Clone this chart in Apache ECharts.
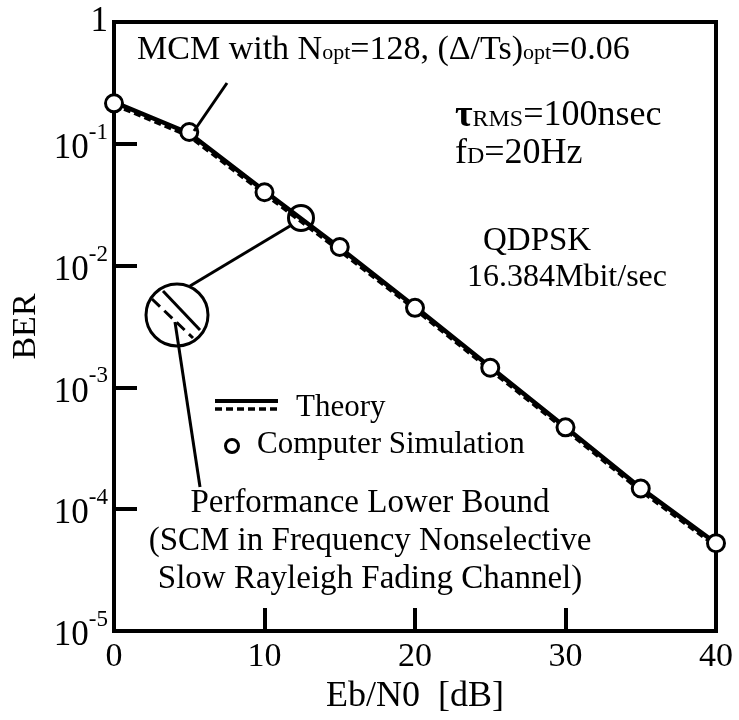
<!DOCTYPE html>
<html>
<head>
<meta charset="utf-8">
<script src="https://cdn.jsdelivr.net/npm/echarts@6/dist/echarts.min.js"></script>
<style>
  html, body { margin: 0; padding: 0; background: #fff; }
  #chart { width: 739px; height: 720px; }
</style>
</head>
<body>
<div id="chart"></div>
<script>
// Eb/N0 points [dB]
var ebn0 = [0, 5, 10, 15, 20, 25, 30, 35, 40];
// computer simulation (circles)
var simBer = [0.215, 0.125, 0.040, 0.0142, 0.0045, 0.00145, 0.00047, 0.000148, 0.0000526];
// MCM theory (solid)
var mcmBer = [0.22, 0.122, 0.041, 0.0140, 0.0046, 0.00147, 0.00047, 0.000149, 0.0000525];
// performance lower bound, SCM (dashed)
var lowerBer = [0.21, 0.116, 0.039, 0.0133, 0.0044, 0.00140, 0.00045, 0.000142, 0.000050];

var serif = '"Liberation Serif", "DejaVu Serif", serif';

function pairs(xs, ys) {
    return xs.map(function (x, i) { return [x, ys[i]]; });
}

var myChart = echarts.init(document.getElementById('chart'));

option = {
    animation: false,
    backgroundColor: '#fff',
    grid: {
        left: 114, right: 23, top: 22, bottom: 83,
        show: true, borderColor: '#000', borderWidth: 4
    },
    xAxis: {
        type: 'value',
        min: 0, max: 40, interval: 10,
        name: 'Eb/N0  [dB]',
        nameLocation: 'middle',
        nameGap: 48,
        nameTextStyle: { color: '#000', fontFamily: serif, fontSize: 36 },
        axisLine: { lineStyle: { color: '#000', width: 4 } },
        axisTick: { inside: true, length: 23, lineStyle: { color: '#000', width: 4 } },
        axisLabel: { color: '#000', fontFamily: serif, fontSize: 34, margin: 9 },
        splitLine: { show: false }
    },
    yAxis: {
        type: 'log',
        logBase: 10,
        min: 1e-5, max: 1,
        name: 'BER',
        nameLocation: 'middle',
        nameGap: 66,
        nameTextStyle: { color: '#000', fontFamily: serif, fontSize: 34 },
        axisLine: { lineStyle: { color: '#000', width: 4 } },
        axisTick: { inside: true, length: 23, lineStyle: { color: '#000', width: 4 } },
        axisLabel: {
            margin: 6,
            formatter: function (v) {
                var k = Math.round(Math.log(v) / Math.LN10);
                if (k === 0) return '{o|1}';
                return '{b|10}{s|' + k + '}';
            },
            rich: {
                o: { color: '#000', fontFamily: serif, fontSize: 35 },
                b: { color: '#000', fontFamily: serif, fontSize: 35, padding: [10, 0, 0, 0] },
                s: { color: '#000', fontFamily: serif, fontSize: 23, verticalAlign: 'top' }
            }
        },
        splitLine: { show: false }
    },
    series: [
        {
            name: 'Lower Bound',
            type: 'line',
            data: pairs(ebn0, lowerBer),
            symbol: 'none',
            lineStyle: { color: '#000', width: 4, type: [7, 4] },
            z: 2
        },
        {
            name: 'MCM Theory',
            type: 'line',
            data: pairs(ebn0, mcmBer),
            symbol: 'none',
            lineStyle: { color: '#000', width: 4.5 },
            z: 3
        },
        {
            name: 'Computer Simulation',
            type: 'scatter',
            data: pairs(ebn0, simBer),
            symbol: 'circle',
            symbolSize: 17,
            itemStyle: { color: '#fff', borderColor: '#000', borderWidth: 3, opacity: 1 },
            z: 4
        }
    ],
    graphic: [
        // annotation texts
        {
            type: 'text', x: 137, y: 50, z: 10,
            style: {
                text: '{a|MCM with N}{s|opt}{a|=128, (\u0394/Ts)}{s|opt}{a|=0.06}',
                verticalAlign: 'middle',
                rich: {
                    a: { fontFamily: serif, fontSize: 34, fill: '#000' },
                    s: { fontFamily: serif, fontSize: 22, fill: '#000', verticalAlign: 'bottom', padding: [0, 0, 3, 0] }
                }
            }
        },
        {
            type: 'text', x: 455, y: 116, z: 10,
            style: {
                text: '{t|\u03c4}{s|RMS}{a|=100nsec}',
                verticalAlign: 'middle',
                rich: {
                    a: { fontFamily: serif, fontSize: 36, fill: '#000' },
                    t: { fontFamily: serif, fontSize: 38, fill: '#000', fontWeight: 'bold' },
                    s: { fontFamily: serif, fontSize: 24, fill: '#000', verticalAlign: 'bottom', padding: [0, 0, 3, 0] }
                }
            }
        },
        {
            type: 'text', x: 455, y: 154, z: 10,
            style: {
                text: '{a|f}{s|D}{a|=20Hz}',
                verticalAlign: 'middle',
                rich: {
                    a: { fontFamily: serif, fontSize: 36, fill: '#000' },
                    s: { fontFamily: serif, fontSize: 24, fill: '#000', verticalAlign: 'bottom', padding: [0, 0, 3, 0] }
                }
            }
        },
        {
            type: 'text', x: 483, y: 241, z: 10,
            style: { text: 'QDPSK', font: '33px ' + serif, fill: '#000', verticalAlign: 'middle' }
        },
        {
            type: 'text', x: 467, y: 278, z: 10,
            style: { text: '16.384Mbit/sec', font: '32px ' + serif, fill: '#000', verticalAlign: 'middle' }
        },
        {
            type: 'text', x: 370, y: 541, z: 10,
            style: {
                text: 'Performance Lower Bound\n(SCM in Frequency Nonselective\nSlow Rayleigh Fading Channel)',
                font: '33px ' + serif, fill: '#000', lineHeight: 38,
                align: 'center', verticalAlign: 'middle'
            }
        },
        // legend
        {
            type: 'line', z: 10,
            shape: { x1: 215, y1: 401, x2: 278, y2: 401 },
            style: { stroke: '#000', lineWidth: 4 }
        },
        {
            type: 'line', z: 10,
            shape: { x1: 215, y1: 409, x2: 278, y2: 409 },
            style: { stroke: '#000', lineWidth: 3.5, lineDash: [7, 4] }
        },
        {
            type: 'text', x: 296, y: 408, z: 10,
            style: { text: 'Theory', font: '31px ' + serif, fill: '#000', verticalAlign: 'middle' }
        },
        {
            type: 'circle', z: 10,
            shape: { cx: 232, cy: 446, r: 6.5 },
            style: { fill: '#fff', stroke: '#000', lineWidth: 3 }
        },
        {
            type: 'text', x: 257, y: 445, z: 10,
            style: { text: 'Computer Simulation', font: '31px ' + serif, fill: '#000', verticalAlign: 'middle' }
        },
        // MCM leader line
        {
            type: 'line', z: 10,
            shape: { x1: 227, y1: 83, x2: 194, y2: 131 },
            style: { stroke: '#000', lineWidth: 3 }
        },
        // magnifier
        {
            type: 'circle', z: 10,
            shape: { cx: 301, cy: 218, r: 12.5 },
            style: { fill: 'none', stroke: '#000', lineWidth: 3 }
        },
        {
            type: 'circle', z: 10,
            shape: { cx: 177, cy: 315, r: 31 },
            style: { fill: '#fff', stroke: '#000', lineWidth: 3 }
        },
        {
            type: 'line', z: 10,
            shape: { x1: 190, y1: 286, x2: 290, y2: 226 },
            style: { stroke: '#000', lineWidth: 3 }
        },
        {
            type: 'line', z: 11,
            shape: { x1: 163, y1: 291, x2: 200, y2: 330 },
            style: { stroke: '#000', lineWidth: 3 }
        },
        {
            type: 'line', z: 11,
            shape: { x1: 152, y1: 299, x2: 193, y2: 338 },
            style: { stroke: '#000', lineWidth: 3, lineDash: [11, 6] }
        },
        {
            type: 'line', z: 11,
            shape: { x1: 175, y1: 322, x2: 200, y2: 487 },
            style: { stroke: '#000', lineWidth: 3 }
        }
    ]
};

myChart.setOption(option, true);
</script>
</body>
</html>
